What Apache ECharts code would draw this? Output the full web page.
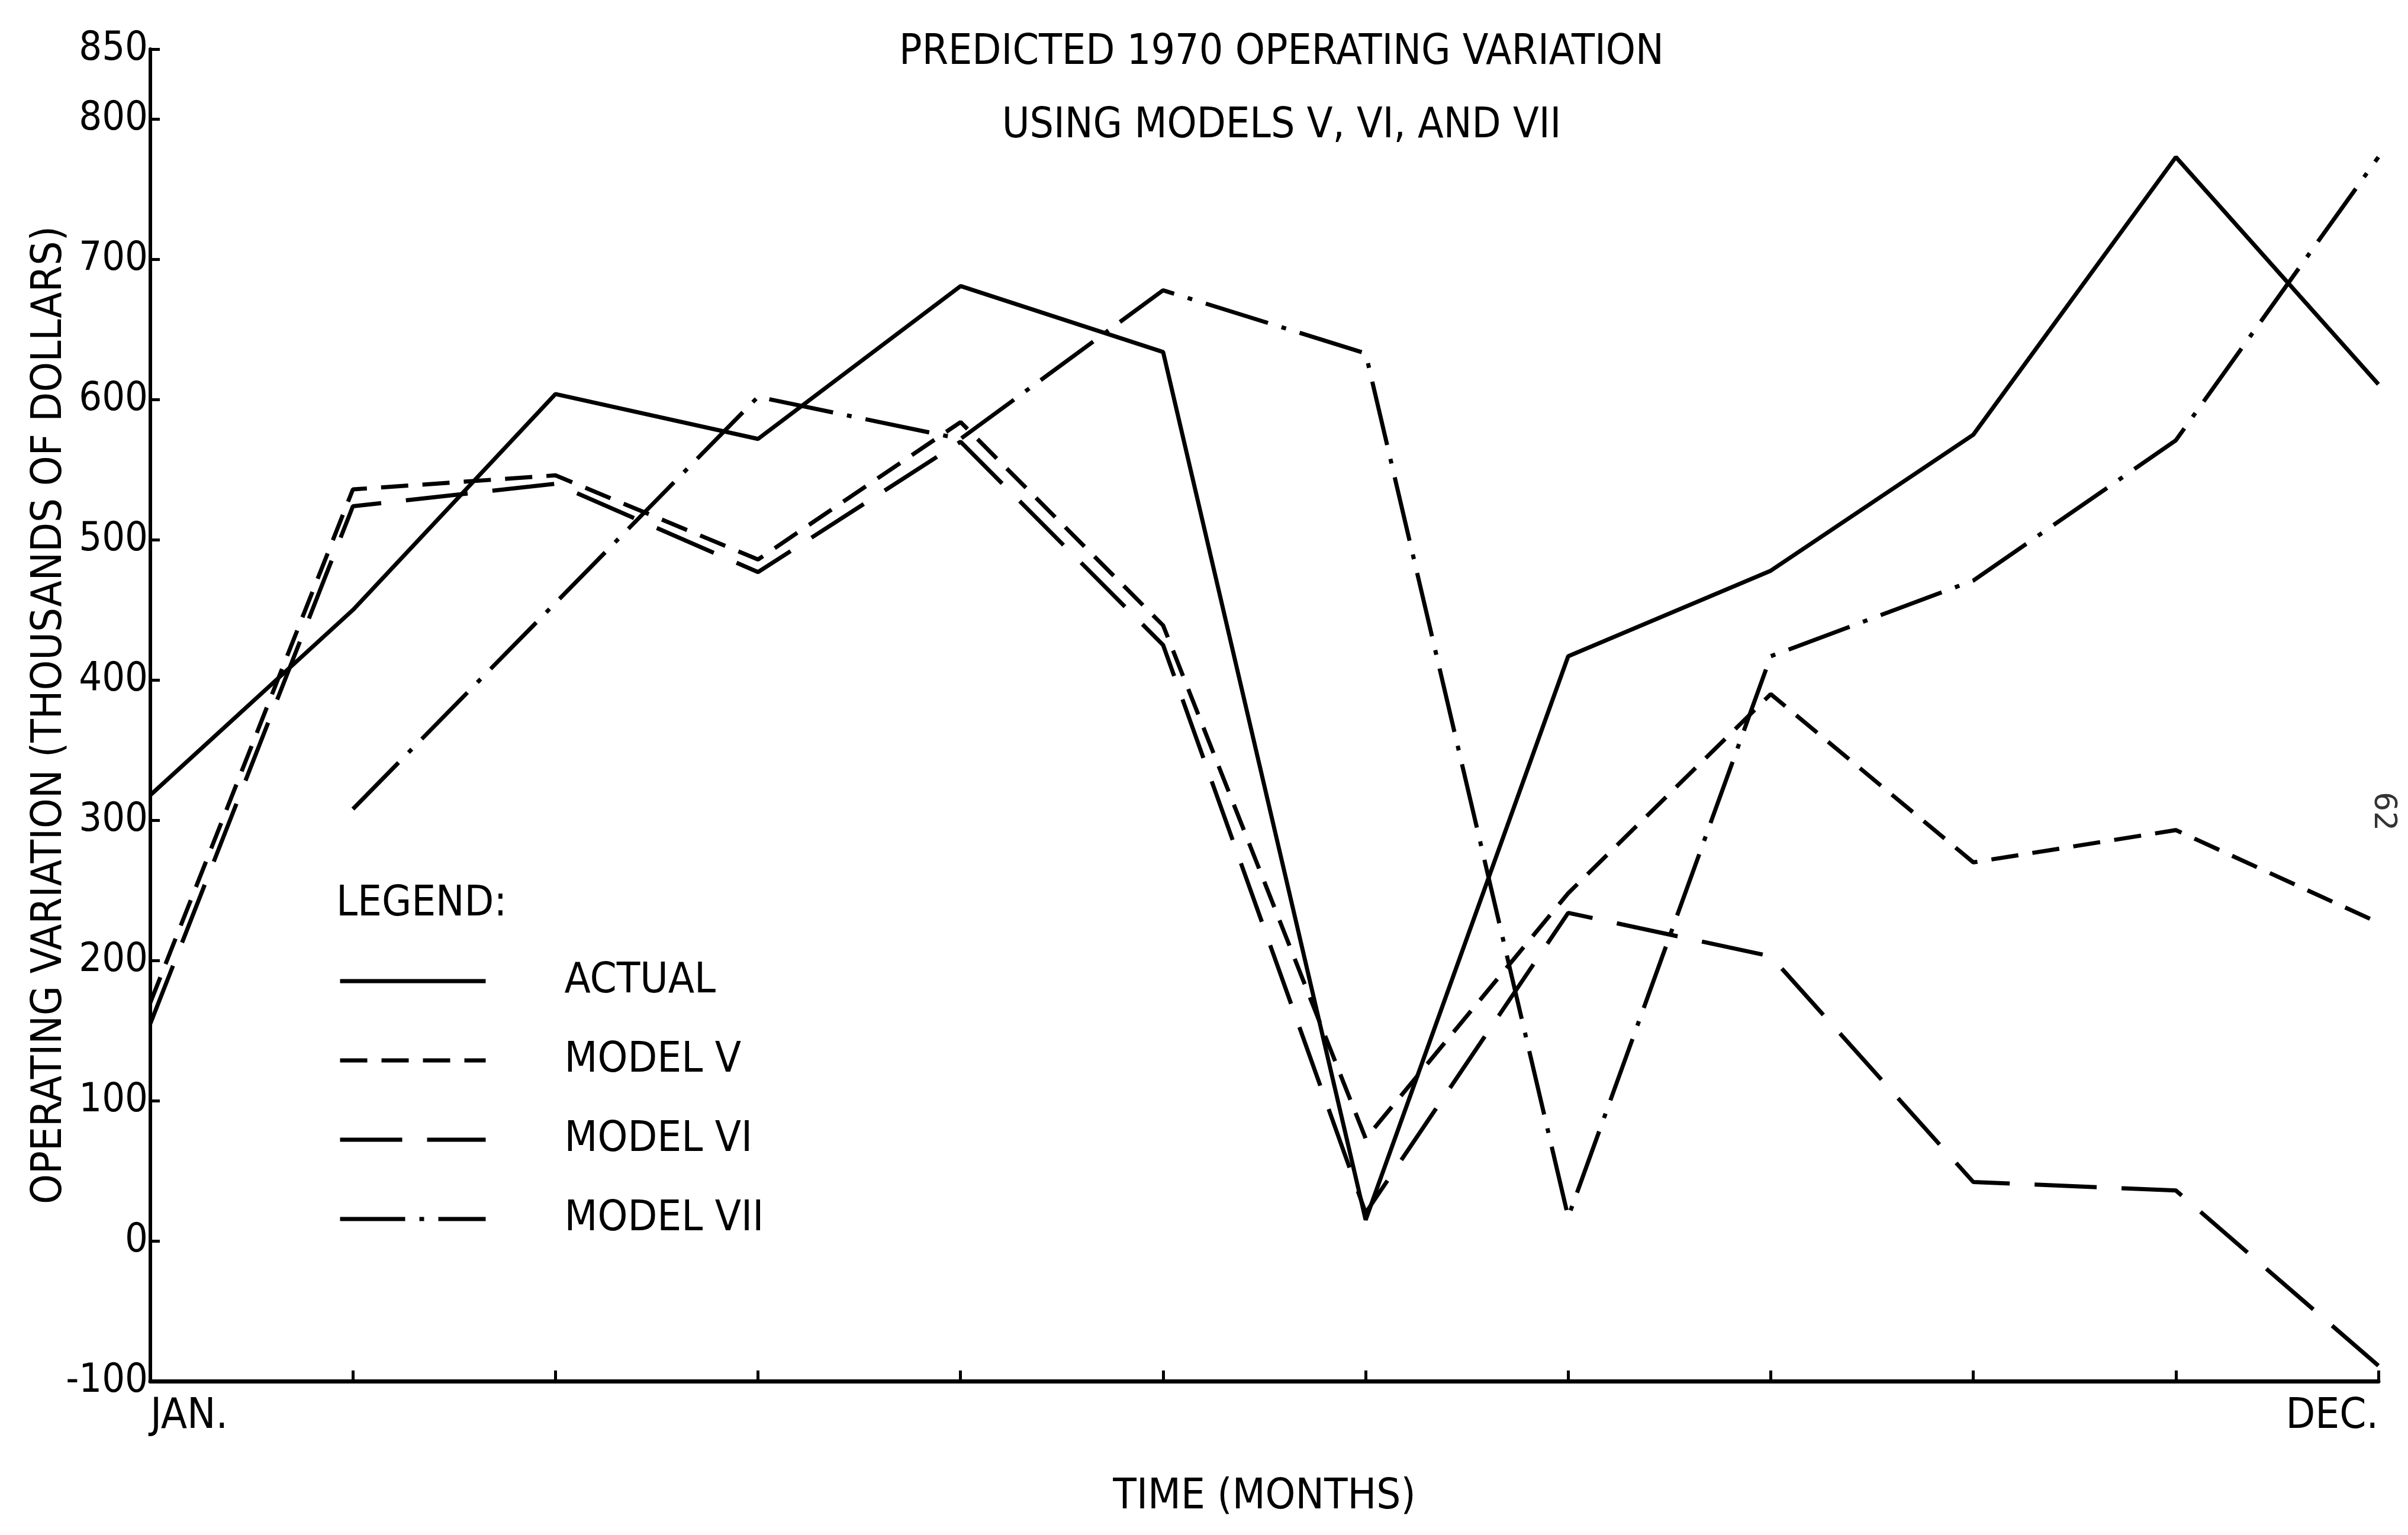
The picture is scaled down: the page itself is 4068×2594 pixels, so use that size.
<!DOCTYPE html>
<html>
<head>
<meta charset="utf-8">
<title>Predicted 1970 operating variation</title>
<script src="https://cdn.jsdelivr.net/npm/echarts@6/dist/echarts.min.js"></script>
<style>
  html, body { margin: 0; padding: 0; background: #fff; }
  #chart { width: 4068px; height: 2594px; }
</style>
</head>
<body>
<div id="chart"></div>
<script>
const months = ['JAN.', 'FEB.', 'MAR.', 'APR.', 'MAY', 'JUN.', 'JUL.', 'AUG.', 'SEP.', 'OCT.', 'NOV.', 'DEC.']
const actual = [318, 450, 604, 572, 681, 634, 15, 417, 478, 575, 773, 611]
const modelV = [170, 536, 546, 486, 584, 439, 73, 248, 390, 270, 293, 227]
const modelVI = [155, 524, 540, 477, 570, 425, 20, 234, 203, 42, 36, -89]
// model VII starts in february
const modelVII = [null, 308, 455, 602, 572, 678, 633, 17, 417, 471, 571, 773]

const font = "'DejaVu Sans Condensed', 'Liberation Sans Narrow', sans-serif"
const ink = '#000'
const fs = 72

const chart = echarts.init(document.getElementById('chart'))

function lineSeries(name, data, dash) {
  return {
    name: name,
    type: 'line',
    data: data,
    showSymbol: false,
    symbol: 'none',
    lineStyle: { color: ink, width: 7, type: dash },
    itemStyle: { color: ink }
  }
}

chart.setOption({
  backgroundColor: '#fff',
  animation: false,
  title: [
    {
      text: 'PREDICTED 1970 OPERATING VARIATION\nUSING MODELS V, VI, AND VII',
      left: 2165,
      top: 28,
      padding: 0,
      textAlign: 'center',
      textStyle: { fontFamily: font, fontSize: 71, fontWeight: 'normal', color: ink, lineHeight: 124 }
    },
    {
      text: 'LEGEND:',
      left: 568,
      top: 1492,
      padding: 0,
      textStyle: { fontFamily: font, fontSize: fs, fontWeight: 'normal', color: ink }
    }
  ],
  legend: {
    orient: 'vertical',
    left: 571,
    top: 1622,
    itemWidth: 246,
    itemHeight: 40,
    itemGap: 62,
    padding: 0,
    itemStyle: { opacity: 0 },
    lineStyle: { width: 7 },
    textStyle: { fontFamily: font, fontSize: fs, lineHeight: 40, color: ink, padding: [0, 0, 0, 128] },
    data: ['ACTUAL', 'MODEL V', 'MODEL VI', 'MODEL VII']
  },
  grid: { left: 254, right: 50, top: 83, bottom: 260, containLabel: false },
  xAxis: {
    type: 'category',
    data: months,
    boundaryGap: false,
    name: 'TIME (MONTHS)',
    nameLocation: 'middle',
    nameGap: 160,
    nameTextStyle: { fontFamily: font, fontSize: fs, color: ink },
    axisLine: { onZero: false, lineStyle: { color: ink, width: 7 } },
    axisTick: { inside: true, length: 18, lineStyle: { color: ink, width: 5 } },
    axisLabel: {
      interval: 0,
      margin: 24,
      fontFamily: font,
      fontSize: fs,
      color: ink,
      alignMinLabel: 'left',
      alignMaxLabel: 'right',
      formatter: (v, i) => (i === 0 || i === months.length - 1) ? v : ''
    },
    splitLine: { show: false }
  },
  yAxis: {
    type: 'value',
    min: -100,
    max: 850,
    interval: 100,
    name: 'OPERATING VARIATION (THOUSANDS OF DOLLARS)',
    nameLocation: 'middle',
    nameRotate: 90,
    nameGap: 134,
    nameMoveOverlap: false,
    nameTextStyle: { fontFamily: font, fontSize: fs, color: ink },
    axisLine: { show: true, lineStyle: { color: ink, width: 6 } },
    axisTick: { show: true, inside: true, length: 16, lineStyle: { color: ink, width: 5 } },
    axisLabel: { margin: 4, fontFamily: font, fontSize: 68, color: ink },
    splitLine: { show: false }
  },
  graphic: [
    {
      type: 'text',
      x: 4052,
      y: 1338,
      rotation: -Math.PI / 2,
      style: { text: '62', font: "52px 'DejaVu Sans'", fill: '#333' }
    }
  ],
  series: [
    lineSeries('ACTUAL', actual, 'solid'),
    lineSeries('MODEL V', modelV, [46, 24]),
    lineSeries('MODEL VI', modelVI, [105, 42]),
    lineSeries('MODEL VII', modelVII, [110, 24, 8, 24])
  ]
})
</script>
</body>
</html>
